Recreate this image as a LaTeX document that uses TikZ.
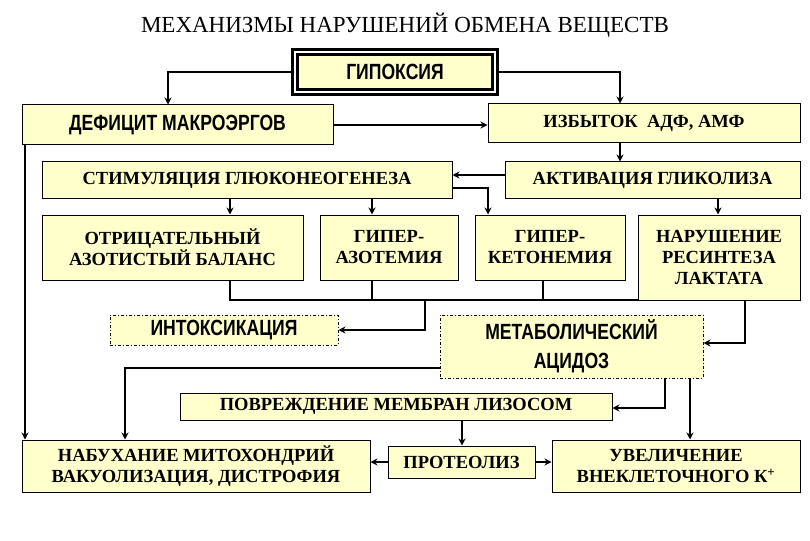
\documentclass[tikz,border=0pt]{standalone}
\usepackage{fontspec}
\setmainfont{Liberation Serif}
\newfontfamily\sfb[FakeStretch=0.8]{Liberation Sans Bold}
\usetikzlibrary{arrows.meta}
\definecolor{by}{HTML}{FFFFCC}
\begin{document}
\begin{tikzpicture}[x=1pt,y=-1pt,
 bx/.style={draw,fill=by,line width=1pt,inner sep=0pt,font=\rmfamily\bfseries\fontsize{18.5}{21}\selectfont,align=center},
 sbx/.style={bx,font=\sfb\fontsize{22}{29}\selectfont},
 ar/.style={line width=2.5pt,-{Stealth[length=7pt,width=7pt]}},
 ln/.style={line width=2.5pt}]
\useasboundingbox (0,0) rectangle (810,540);
\node[font=\fontsize{23}{23}\selectfont] (t) at (405,25) {МЕХАНИЗМЫ НАРУШЕНИЙ ОБМЕНА ВЕЩЕСТВ};
\def\B#1#2#3#4#5#6#7{\node[#2,minimum width={#5-#3},minimum height={#6-#4}] (#1) at ({(#3+#5)/2},{(#4+#6)/2}) {#7};}
\B{hyp}{sbx,line width=3pt,double,double distance=1.5pt}{295}{52}{495}{92}{ГИПОКСИЯ}
\B{def}{sbx}{22}{105}{333}{145}{ДЕФИЦИТ МАКРОЭРГОВ}
\B{izb}{bx}{488}{104}{800}{143}{ИЗБЫТОК\ \ АДФ, АМФ}
\B{stim}{bx}{42}{162}{452}{198}{СТИМУЛЯЦИЯ ГЛЮКОНЕОГЕНЕЗА}
\B{akt}{bx}{505}{162}{800}{198}{АКТИВАЦИЯ ГЛИКОЛИЗА}
\B{otr}{bx}{42}{215}{303}{280}{ОТРИЦАТЕЛЬНЫЙ\\АЗОТИСТЫЙ БАЛАНС}
\B{azo}{bx}{320}{215}{458}{280}{ГИПЕР-\\АЗОТЕМИЯ}
\B{ket}{bx}{475}{215}{625}{280}{ГИПЕР-\\КЕТОНЕМИЯ}
\B{nar}{bx}{638}{215}{800}{300}{НАРУШЕНИЕ\\РЕСИНТЕЗА\\ЛАКТАТА}
\B{int}{sbx,dash dot}{110}{315}{338}{345}{ИНТОКСИКАЦИЯ}
\B{met}{sbx,dash dot}{440}{315}{703}{378}{МЕТАБОЛИЧЕСКИЙ\\АЦИДОЗ}
\B{pov}{bx}{180}{393}{612}{420}{ПОВРЕЖДЕНИЕ МЕМБРАН ЛИЗОСОМ}
\B{nab}{bx}{22}{440}{370}{492}{НАБУХАНИЕ МИТОХОНДРИЙ\\ВАКУОЛИЗАЦИЯ, ДИСТРОФИЯ}
\B{pro}{bx}{388}{446}{535}{478}{ПРОТЕОЛИЗ}
\B{uve}{bx}{552}{440}{800}{492}{УВЕЛИЧЕНИЕ\\ВНЕКЛЕТОЧНОГО К\textsuperscript{+}}
\draw[ar] (hyp.west|-0,72) -| (def.north-|168,0);
\draw[ar] (hyp.east|-0,72) -| (izb.north-|620,0);
\draw[ar] (def.east|-0,125) -- (izb.west|-0,125);
\draw[ar] (def.south-|25,0) -- (nab.north-|25,0);
\draw[ar] (izb.south-|620,0) -- (akt.north-|620,0);
\draw[ar] (akt.west|-0,175) -- (stim.east|-0,175);
\draw[ar] (stim.east|-0,188) -| (ket.north-|488,0);
\draw[ar] (stim.south-|230,0) -- (otr.north-|230,0);
\draw[ar] (stim.south-|372,0) -- (azo.north-|372,0);
\draw[ar] (akt.south-|718,0) -- (nar.north-|718,0);
\coordinate (l1) at (230,300); \coordinate (l2) at (638,300);
\draw[ln] (otr.south-|230,0) -- (l1) -- (l2);
\draw[ln] (azo.south-|372,0) -- (372,300);
\draw[ln] (ket.south-|543,0) -- (543,300);
\draw[ar] (425,300) |- (int.east);
\draw[ar] (nar.south-|745,0) |- (met.east|-0,343);
\draw[ar] (met.west|-0,368) -| (nab.north-|125,0);
\draw[ar] (met.south-|665,0) |- (pov.east|-0,408);
\draw[ar] (met.south-|690,0) -- (uve.north-|690,0);
\draw[ar] (pov.south-|462,0) -- (pro.north-|462,0);
\draw[ar] (pro.west) -- (nab.east|-pro.west);
\draw[ar] (pro.east) -- (uve.west|-pro.east);
\end{tikzpicture}
\end{document}
